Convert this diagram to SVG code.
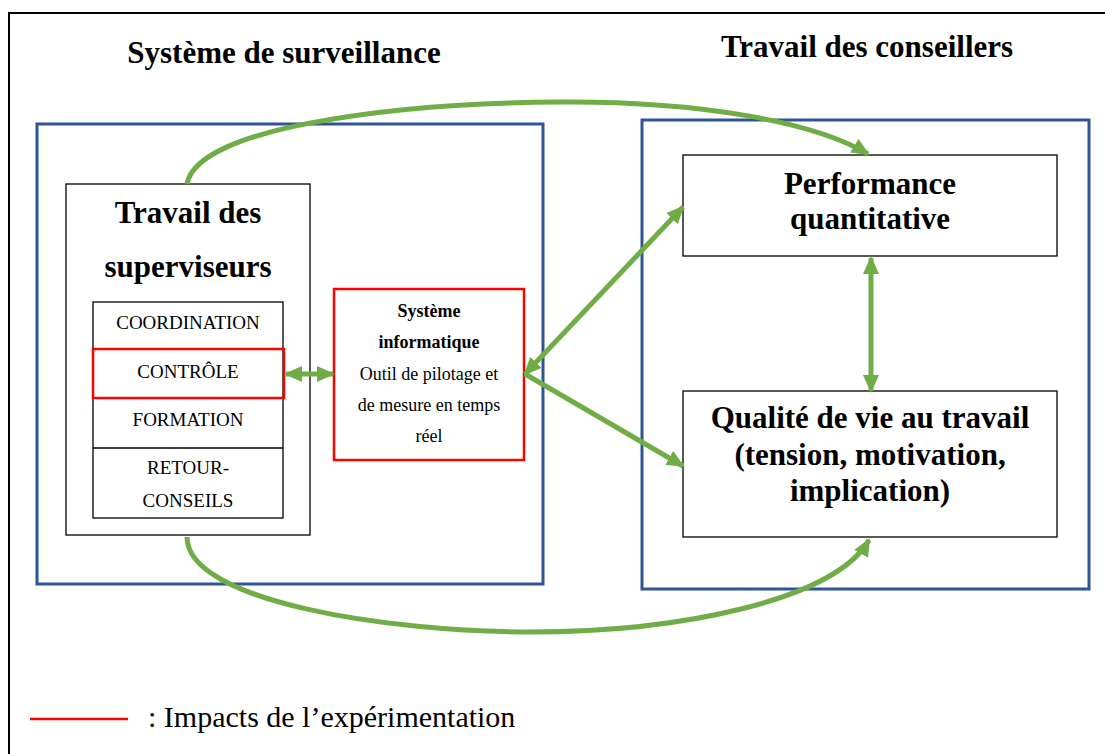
<svg xmlns="http://www.w3.org/2000/svg" width="1105" height="754" viewBox="0 0 1105 754">
<style>
.t{font-family:"Liberation Serif","Times New Roman",serif;fill:#000;text-anchor:middle}
.b{font-weight:bold}
.blue{fill:none;stroke:#2F5597;stroke-width:3}
.box{fill:#fff;stroke:#000;stroke-width:1.3}
.red{fill:none;stroke:#FF0000;stroke-width:2.5}
.g{fill:none;stroke:#70AD47;stroke-width:5}
</style>
<defs>
<marker id="ah" markerUnits="userSpaceOnUse" markerWidth="18" markerHeight="16" refX="16" refY="8" orient="auto-start-reverse">
<path d="M0,0 L18,8 L0,16 Z" fill="#70AD47"/>
</marker>
</defs>
<rect width="1105" height="754" fill="#fff"/>
<path d="M9,754 V13 H1105" fill="none" stroke="#000" stroke-width="2"/>
<text class="t b" x="284" y="63" font-size="31">Système de surveillance</text>
<text class="t b" x="867" y="57" font-size="31">Travail des conseillers</text>
<rect id="frame-left" class="blue" x="37" y="124" width="506" height="460"/>
<rect id="frame-right" class="blue" x="642" y="120" width="447" height="469"/>
<g id="superviseurs">
<rect class="box" x="66" y="184" width="244" height="351"/>
<text class="t b" x="188" y="223" font-size="31">Travail des</text>
<text class="t b" x="188" y="277" font-size="31">superviseurs</text>
</g>
<g id="taches">
<rect class="box" x="93" y="302" width="190" height="216"/>
<line x1="93" y1="448" x2="283" y2="448" stroke="#000" stroke-width="1.3"/>
<text class="t" x="188" y="329" font-size="19">COORDINATION</text>
<rect class="red" x="93" y="349" width="191" height="49"/>
<text class="t" x="188" y="378" font-size="19">CONTRÔLE</text>
<text class="t" x="188" y="426" font-size="19">FORMATION</text>
<text class="t" x="188" y="474" font-size="19">RETOUR-</text>
<text class="t" x="188" y="507" font-size="19">CONSEILS</text>
</g>
<g id="systeme">
<rect x="334" y="289" width="190" height="171" fill="#fff" stroke="#FF0000" stroke-width="2.5"/>
<text class="t b" x="429" y="317" font-size="18">Système</text>
<text class="t b" x="429" y="348" font-size="18">informatique</text>
<text class="t" x="429" y="380" font-size="18">Outil de pilotage et</text>
<text class="t" x="429" y="411" font-size="18">de mesure en temps</text>
<text class="t" x="429" y="442" font-size="18">réel</text>
</g>
<g id="performance">
<rect class="box" x="683" y="155" width="374" height="101"/>
<text class="t b" x="870" y="194" font-size="31">Performance</text>
<text class="t b" x="870" y="229" font-size="31">quantitative</text>
</g>
<g id="qualite">
<rect class="box" x="683" y="391" width="374" height="146"/>
<text class="t b" x="870" y="428" font-size="31">Qualité de vie au travail</text>
<text class="t b" x="870" y="465" font-size="31">(tension, motivation,</text>
<text class="t b" x="870" y="501" font-size="31">implication)</text>
</g>
<g id="connectors">
<path class="g" d="M187,184 C197,128 390,103 560,102 C700,101 815,122 868,154" marker-end="url(#ah)"/>
<path class="g" d="M187,537 C187,602 390,632 530,632 C680,632 835,600 869,540" marker-end="url(#ah)"/>
<path class="g" d="M286,374 H333" marker-start="url(#ah)" marker-end="url(#ah)"/>
<path class="g" d="M525,374 L683,207" marker-start="url(#ah)" marker-end="url(#ah)"/>
<path class="g" d="M525,374 L683,466" marker-end="url(#ah)"/>
<path class="g" d="M871,258 V391" marker-start="url(#ah)" marker-end="url(#ah)"/>
</g>
<g id="legend">
<line x1="30" y1="719" x2="128" y2="719" stroke="#FF0000" stroke-width="2.5"/>
<text class="t" x="148" y="727" font-size="30" style="text-anchor:start">: Impacts de l’expérimentation</text>
</g>
</svg>
